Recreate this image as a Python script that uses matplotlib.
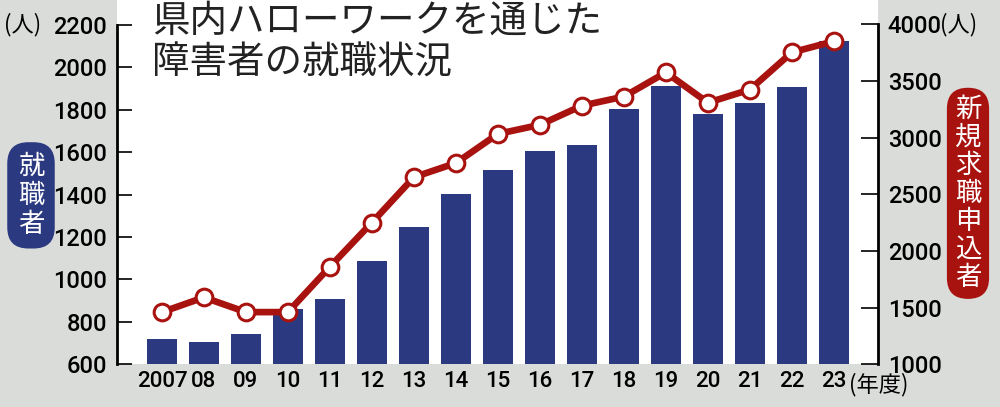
import matplotlib
matplotlib.use('Agg')
from matplotlib import pyplot as plt

plt.rcParams['font.family'] = ['Roboto', 'Noto Sans CJK JP', 'DejaVu Sans']

# data
years = ['2007', '08', '09', '10', '11', '12', '13', '14', '15',
         '16', '17', '18', '19', '20', '21', '22', '23']
employed = [721, 707, 745, 859, 906, 1086, 1247, 1404, 1517,
            1607, 1636, 1802, 1911, 1778, 1830, 1906, 2124]
applicants = [1460, 1590, 1460, 1460, 1860, 2250, 2650, 2775, 3032,
              3112, 3281, 3361, 3574, 3307, 3423, 3751, 3849]
left_ticks = [600, 800, 1000, 1200, 1400, 1600, 1800, 2000, 2200]
right_ticks = [1000, 1500, 2000, 2500, 3000, 3500, 4000]

bg = '#dadcda'
navy = '#2b3a80'
red = '#a8120f'
cjk = ['Noto Sans CJK JP', 'DejaVu Sans']
num = ['Roboto', 'DejaVu Sans']

fig = plt.figure(figsize=(10, 4.07), dpi=100, facecolor=bg)
ax = fig.add_axes([0.117, 0.105, 0.761, 0.895])
ax.set_facecolor('white')

x = range(len(years))
ax.bar(x, employed, width=0.71, color=navy, zorder=2)
ax.set_ylim(600, 2318)
ax.set_xlim(-1.07, len(years) - 1 + 1.05)
ax.set_yticks(left_ticks)
ax.set_yticklabels([str(t) for t in left_ticks], fontsize=17, family=num, weight='medium')
ax.set_xticks(list(x))
ax.set_xticklabels(years, fontsize=16, family=num, weight='medium')
ax.tick_params(axis='y', direction='in', length=11, width=1.2, pad=7)
ax.tick_params(axis='x', length=0, pad=5)
ax.spines['left'].set_bounds(600, 2200)
ax.spines['left'].set_linewidth(2)
for s in ['top', 'right', 'bottom']:
    ax.spines[s].set_visible(False)

ax2 = ax.twinx()
ax2.plot(x, applicants, color=red, linewidth=4.8, marker='o', markersize=12,
         markerfacecolor='white', markeredgecolor=red, markeredgewidth=2.2, zorder=3)
ax2.set_ylim(1000, 4213)
ax2.set_yticks(right_ticks)
ax2.set_yticklabels([str(t) for t in right_ticks], fontsize=17, family=num, weight='medium')
ax2.tick_params(axis='y', direction='in', length=12, width=1.2, pad=7)
ax2.spines['right'].set_bounds(1000, 4000)
ax2.spines['right'].set_linewidth(2)
for s in ['top', 'left', 'bottom']:
    ax2.spines[s].set_visible(False)

# title
fig.text(0.152, 0.997, '県内ハローワークを通じた\n障害者の就職状況', fontsize=27,
         family=cjk, va='top', ha='left', linespacing=1.1, color='#222222')

# unit labels
fig.text(0.004, 0.94, '(人)', fontsize=16, family=cjk, va='center', ha='left')
fig.text(0.94, 0.94, '(人)', fontsize=16, family=cjk, va='center', ha='left')
fig.text(0.849, 0.056, '(年度)', fontsize=16, family=cjk, va='center', ha='left')

# axis badges
fig.text(0.031, 0.52, '\n'.join('就職者'), fontsize=19, family=cjk, color='white',
         ha='center', va='center', linespacing=1.1,
         bbox=dict(boxstyle='round,pad=0.4,rounding_size=0.8', fc=navy, ec='none'))
fig.text(0.968, 0.525, '\n'.join('新規求職申込者'), fontsize=19, family=cjk, color='white',
         ha='center', va='center', linespacing=1.05,
         bbox=dict(boxstyle='round,pad=0.3,rounding_size=0.8', fc=red, ec='none'))

fig.savefig('out.png', dpi=100, facecolor=bg)
